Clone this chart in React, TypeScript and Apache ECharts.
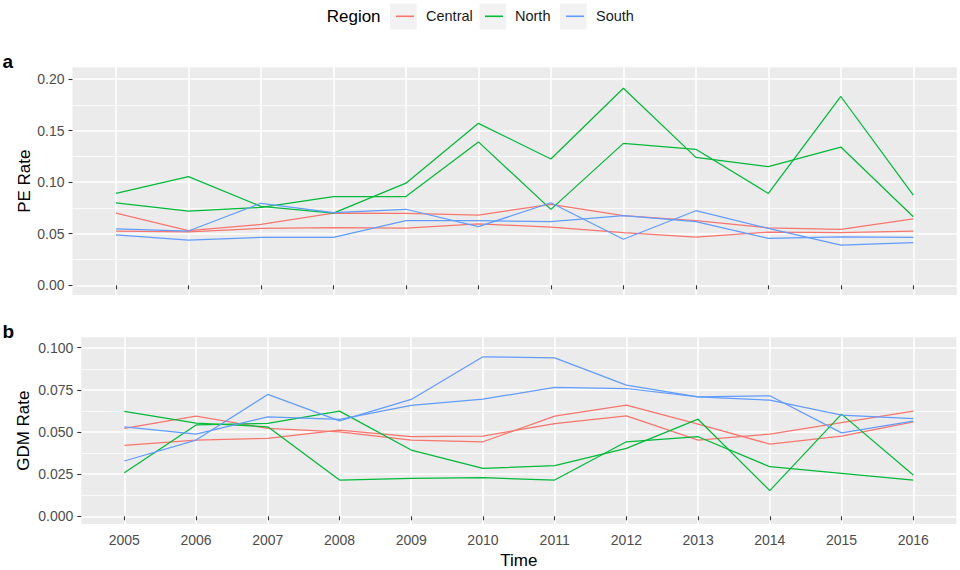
import React, { useEffect, useRef } from "react";
import * as echarts from "echarts";

const years = [2005, 2006, 2007, 2008, 2009, 2010, 2011, 2012, 2013, 2014, 2015, 2016];
const regions = ["Central", "North", "South"];

// Panel a: PE Rate (two lines per region)
const peCentral1 = [0.070, 0.053, 0.059, 0.070, 0.0698, 0.068, 0.0785, 0.0675, 0.0626, 0.0557, 0.0543, 0.0643];
const peCentral2 = [0.0526, 0.0517, 0.0552, 0.056, 0.0555, 0.0595, 0.0565, 0.051, 0.0468, 0.0515, 0.051, 0.0524];
const peNorth1 = [0.0892, 0.1053, 0.0765, 0.070, 0.099, 0.157, 0.1224, 0.191, 0.124, 0.115, 0.134, 0.0665];
const peNorth2 = [0.080, 0.072, 0.0755, 0.086, 0.086, 0.139, 0.0736, 0.1376, 0.1318, 0.089, 0.183, 0.0875];
const peSouth1 = [0.0546, 0.0526, 0.0795, 0.0705, 0.0737, 0.0568, 0.080, 0.0446, 0.0723, 0.0552, 0.039, 0.0413];
const peSouth2 = [0.0488, 0.0439, 0.0465, 0.0465, 0.0626, 0.0626, 0.0617, 0.0675, 0.0617, 0.0455, 0.047, 0.0465];

// Panel b: GDM Rate (two lines per region)
const gdmCentral1 = [0.0521, 0.0594, 0.0521, 0.0501, 0.0452, 0.0442, 0.0594, 0.066, 0.0547, 0.0428, 0.0476, 0.056];
const gdmCentral2 = [0.042, 0.0452, 0.0462, 0.0511, 0.0472, 0.0476, 0.055, 0.0596, 0.0452, 0.0488, 0.0555, 0.0624];
const gdmNorth1 = [0.0622, 0.0552, 0.0531, 0.0215, 0.0225, 0.0229, 0.0215, 0.0442, 0.0472, 0.0294, 0.0255, 0.0215];
const gdmNorth2 = [0.0258, 0.0542, 0.0551, 0.0624, 0.0393, 0.0284, 0.030, 0.0403, 0.0576, 0.0152, 0.0606, 0.0245];
const gdmSouth1 = [0.0328, 0.0452, 0.0723, 0.0566, 0.0693, 0.0946, 0.094, 0.0778, 0.0709, 0.0715, 0.0495, 0.0565];
const gdmSouth2 = [0.0531, 0.0488, 0.059, 0.0575, 0.0658, 0.0695, 0.0764, 0.0758, 0.0709, 0.0689, 0.060, 0.058];

const peMajorTicks = [0, 0.05, 0.1, 0.15, 0.2];
const peMinorTicks = [0.025, 0.075, 0.125, 0.175];
const gdmMajorTicks = [0, 0.025, 0.05, 0.075, 0.1];
const gdmMinorTicks = [0.0125, 0.0375, 0.0625, 0.0875];

const colors: Record<string, string> = { Central: "#F8766D", North: "#00BA38", South: "#619CFF" };
const FONT = "'Liberation Sans', Arial, Helvetica, sans-serif";

export default function App() {
  const ref = useRef<HTMLDivElement>(null);
  useEffect(() => {
    if (!ref.current) return;
    const chart = echarts.init(ref.current, undefined, { renderer: "svg" });

    const pe: Record<string, number[][]> = {
      Central: [peCentral1, peCentral2],
      North: [peNorth1, peNorth2],
      South: [peSouth1, peSouth2],
    };
    const gdm: Record<string, number[][]> = {
      Central: [gdmCentral1, gdmCentral2],
      North: [gdmNorth1, gdmNorth2],
      South: [gdmSouth1, gdmSouth2],
    };

    const series: any[] = [];
    const addSeries = (src: Record<string, number[][]>, xi: number, yi: number) => {
      regions.forEach((r) => {
        src[r].forEach((arr) => {
          series.push({
            type: "line",
            name: r,
            xAxisIndex: xi,
            yAxisIndex: yi,
            symbol: "none",
            color: colors[r],
            lineStyle: { width: 1.25, color: colors[r] },
            data: years.map((y, i) => [y, arr[i]]),
            z: 3,
          });
        });
      });
    };
    addSeries(pe, 0, 0);
    addSeries(gdm, 1, 2);

    const xBase = (gridIndex: number, showLabels: boolean, name?: string) => ({
      type: "value",
      gridIndex,
      min: 2004.4,
      max: 2016.6,
      name,
      nameLocation: "middle",
      nameGap: 27.5,
      nameMoveOverlap: false,
      nameTextStyle: { fontFamily: FONT, fontSize: 17, color: "#000" },
      axisLine: { show: false },
      axisTick: { show: true, length: 4, customValues: years, lineStyle: { color: "#333", width: 1.1 } },
      axisLabel: {
        show: showLabels,
        customValues: years,
        formatter: (v: number) => String(v),
        fontFamily: FONT,
        fontSize: 14,
        color: "#4D4D4D",
        margin: 9,
      },
      splitLine: { show: true, lineStyle: { color: "#FFFFFF", width: 1.6 } },
    });

    const yMajor = (gridIndex: number, min: number, max: number, ticks: number[], digits: number, name: string, gap: number) => ({
      type: "value",
      gridIndex,
      min,
      max,
      name,
      nameLocation: "middle",
      nameGap: gap,
      nameMoveOverlap: false,
      nameTextStyle: { fontFamily: FONT, fontSize: 17, color: "#000" },
      axisLine: { show: false },
      axisTick: { show: true, length: 4, customValues: ticks, lineStyle: { color: "#333", width: 1.1 } },
      axisLabel: {
        customValues: ticks,
        formatter: (v: number) => v.toFixed(digits),
        fontFamily: FONT,
        fontSize: 14,
        color: "#4D4D4D",
        margin: 8,
      },
      splitLine: { show: true, lineStyle: { color: "#FFFFFF", width: 1.6 } },
    });

    const yMinor = (gridIndex: number, min: number, max: number, ticks: number[]) => ({
      type: "value",
      gridIndex,
      min,
      max,
      position: "left",
      axisLine: { show: false },
      axisTick: { show: false, customValues: ticks },
      axisLabel: { show: false, customValues: ticks },
      splitLine: { show: true, lineStyle: { color: "#FFFFFF", width: 0.8 } },
    });

    const legendItem = (name: string, left: number) => ({
      show: true,
      data: [name],
      left,
      top: 7.8,
      padding: 0,
      icon: "rect",
      itemWidth: 18,
      itemHeight: 1.6,
      selectedMode: false,
      z: 10,
      textStyle: { fontFamily: FONT, fontSize: 14.5, color: "#1A1A1A", lineHeight: 17, padding: [0, 0, 0, 7] },
    });

    const keyBox = (x: number) => ({
      type: "rect",
      shape: { x, y: 3.3, width: 26.7, height: 26 },
      style: { fill: "#F2F2F2" },
      z: 0,
    });

    const option: any = {
      animation: false,
      backgroundColor: "#FFFFFF",
      grid: [
        { left: 72.5, top: 67.3, width: 884.3, height: 227.7, show: true, backgroundColor: "#EBEBEB", borderWidth: 0 },
        { left: 81.3, top: 337.3, width: 875, height: 186.7, show: true, backgroundColor: "#EBEBEB", borderWidth: 0 },
      ],
      xAxis: [xBase(0, false), xBase(1, true, "Time")],
      yAxis: [
        yMajor(0, -0.0094, 0.2113, peMajorTicks, 2, "PE Rate", 40),
        yMinor(0, -0.0094, 0.2113, peMinorTicks),
        yMajor(1, -0.00457, 0.10617, gdmMajorTicks, 3, "GDM Rate", 49),
        yMinor(1, -0.00457, 0.10617, gdmMinorTicks),
      ],
      legend: [legendItem("Central", 396), legendItem("North", 485), legendItem("South", 566)],
      graphic: [
        keyBox(390),
        keyBox(479.5),
        keyBox(560),
        {
          type: "text",
          x: 326.7,
          y: 16.5,
          style: { text: "Region", font: `17px ${FONT}`, fill: "#000", verticalAlign: "middle", align: "left" },
        },
        {
          type: "text",
          x: 2.5,
          y: 61,
          style: { text: "a", font: `bold 19px ${FONT}`, fill: "#000", verticalAlign: "middle", align: "left" },
        },
        {
          type: "text",
          x: 2.5,
          y: 331,
          style: { text: "b", font: `bold 19px ${FONT}`, fill: "#000", verticalAlign: "middle", align: "left" },
        },
      ],
      series,
    };

    chart.setOption(option);
    return () => chart.dispose();
  }, []);

  return <div ref={ref} style={{ position: "absolute", left: 0, top: 0, width: 960, height: 570 }} />;
}
